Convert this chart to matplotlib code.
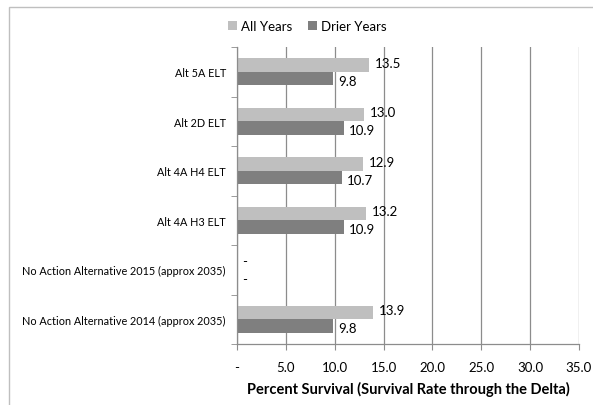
import matplotlib.pyplot as plt
from matplotlib.patches import Rectangle

plt.rcParams['font.family'] = ['Lato', 'DejaVu Sans']

categories = ['Alt 5A ELT', 'Alt 2D ELT', 'Alt 4A H4 ELT', 'Alt 4A H3 ELT',
              'No Action Alternative 2015 (approx 2035)',
              'No Action Alternative 2014 (approx 2035)']
all_years = [13.5, 13.0, 12.9, 13.2, 0.0, 13.9]
drier_years = [9.8, 10.9, 10.7, 10.9, 0.0, 9.8]
all_labels = ['13.5', '13.0', '12.9', '13.2', '-', '13.9']
drier_labels = ['9.8', '10.9', '10.7', '10.9', '-', '9.8']
xticks = [0, 5, 10, 15, 20, 25, 30, 35]
xtick_labels = ['-', '5.0', '10.0', '15.0', '20.0', '25.0', '30.0', '35.0']

light = '#BFBFBF'
dark = '#7F7F7F'
axis_col = '#8C8C8C'

fig = plt.figure(figsize=(5.93, 4.06), dpi=100)
ax = fig.add_axes([237 / 593, 1 - 345 / 406, 342 / 593, 297 / 406])

ypos = list(range(len(categories)))
h = 0.27
b1 = ax.barh([y - h / 2 for y in ypos], all_years, height=h, color=light, label='All Years')
b2 = ax.barh([y + h / 2 for y in ypos], drier_years, height=h, color=dark, label='Drier Years')

# data labels to the right of each bar
for y, v, lab in zip(ypos, all_years, all_labels):
    ax.annotate(lab, (v, y - h / 2 - 0.05), xytext=(4, 0), textcoords='offset points',
                va='center', ha='left', fontsize=9.5)
for y, v, lab in zip(ypos, drier_years, drier_labels):
    ax.annotate(lab, (v, y + h / 2 + 0.05), xytext=(4, 0), textcoords='offset points',
                va='center', ha='left', fontsize=9.5)

ax.set_xlim(0, 35)
ax.set_ylim(5.5, -0.5)
ax.set_xticks(xticks)
ax.set_xticklabels(xtick_labels, fontsize=9.5)
ax.set_yticks(ypos)
ax.set_yticklabels(categories, fontsize=7.8)
ax.set_yticks([i + 0.5 for i in range(-1, 6)], minor=True)
ax.tick_params(axis='y', which='major', length=0, pad=8)
ax.tick_params(axis='y', which='minor', length=4, color=axis_col, direction='out')
ax.tick_params(axis='x', length=4, color=axis_col, direction='out', pad=8)
ax.grid(axis='x', color=axis_col, lw=0.9)
ax.set_axisbelow(True)
for s in ['top', 'right']:
    ax.spines[s].set_visible(False)
for s in ['left', 'bottom']:
    ax.spines[s].set_color(axis_col)
    ax.spines[s].set_linewidth(0.9)

ax.set_xlabel('Percent Survival (Survival Rate through the Delta)', fontsize=10.5,
              fontweight='bold', labelpad=6)

fig.legend(handles=[b1, b2], loc='center', bbox_to_anchor=(0.518, 1 - 27 / 406), ncol=2,
           frameon=False, fontsize=9.5, handlelength=0.7, handleheight=0.7,
           handletextpad=0.3, columnspacing=1.2)

fig.patches.append(Rectangle((9 / 593, -0.1), 1.2, 1.1 - 8 / 406, transform=fig.transFigure,
                             fill=False, edgecolor='#BFBFBF', lw=1))

fig.savefig('out.png', dpi=100)
